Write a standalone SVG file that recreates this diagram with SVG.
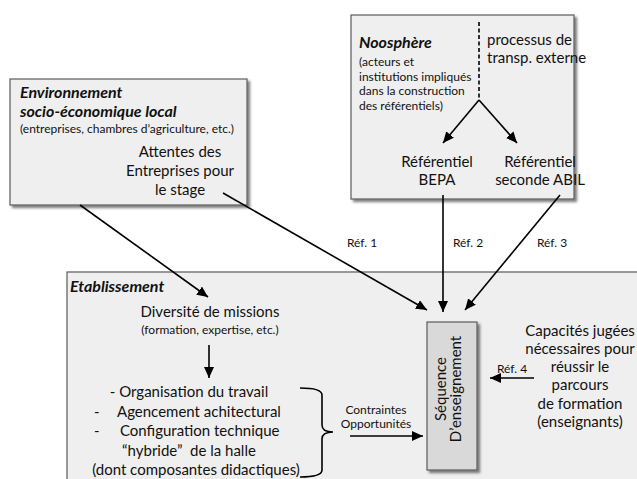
<svg xmlns="http://www.w3.org/2000/svg" width="637" height="479" viewBox="0 0 637 479">
<defs>
<style>
.box{fill:#efefef;stroke:#5a5a5a;stroke-width:1.2}
.seq{fill:#d9d9d9;stroke:#5a5a5a;stroke-width:1.2}
.t{font-family:Lato,"Liberation Sans",sans-serif;fill:#111}
.m{font-size:15px}
.s{font-size:12px}
.h{font-size:16px;font-weight:bold;font-style:italic}
.c{text-anchor:middle}
.ln{stroke:#000;stroke-width:1.6;fill:none}
.ar{stroke:#000;stroke-width:1.6;fill:none;marker-end:url(#ah)}
</style>
<marker id="ah" markerUnits="userSpaceOnUse" markerWidth="12" markerHeight="10" refX="11" refY="5" orient="auto">
<path d="M0,0 L11,5 L0,10 z" fill="#000"/>
</marker>
<filter id="sh" x="-10%" y="-10%" width="130%" height="130%">
<feDropShadow dx="2.5" dy="2.5" stdDeviation="1.2" flood-color="#000" flood-opacity="0.5"/>
</filter>
</defs>
<rect width="637" height="479" fill="#fff"/>

<g id="etablissement">
<rect class="box" x="67" y="272" width="580" height="220" filter="url(#sh)"/>
<text class="t h" x="70" y="292">Etablissement</text>
</g>

<g id="environnement">
<rect class="box" x="10" y="79" width="237" height="126" filter="url(#sh)"/>
<text class="t h" x="20" y="98">Environnement</text>
<text class="t h" x="20" y="117">socio-économique local</text>
<text class="t s" x="20" y="133">(entreprises, chambres d’agriculture, etc.)</text>
<text class="t m c" x="180" y="157">Attentes des</text>
<text class="t m c" x="180" y="176">Entreprises pour</text>
<text class="t m c" x="180" y="195">le stage</text>
</g>

<g id="noosphere">
<rect class="box" x="351" y="15" width="223" height="184" filter="url(#sh)"/>
<text class="t h" x="359" y="48">Noosphère</text>
<text class="t s" x="359" y="66">(acteurs et</text>
<text class="t s" x="359" y="80.5">institutions impliqués</text>
<text class="t s" x="359" y="95">dans la construction</text>
<text class="t s" x="359" y="109.5">des référentiels)</text>
<text class="t m" x="487" y="45">processus de</text>
<text class="t m" x="487" y="63">transp. externe</text>
<line x1="479" y1="22" x2="479" y2="100" stroke="#000" stroke-width="1.6" stroke-dasharray="4,2.5"/>
</g>

<g id="ref-bepa">
<text class="t m c" x="437" y="167">Référentiel</text>
<text class="t m c" x="437" y="185">BEPA</text>
</g>

<g id="ref-abil">
<text class="t m c" x="540" y="167">Référentiel</text>
<text class="t m c" x="540" y="185">seconde ABIL</text>
</g>

<g id="diversite">
<text class="t m c" x="210" y="317">Diversité de missions</text>
<text class="t s c" x="210" y="334">(formation, expertise, etc.)</text>
</g>

<g id="organisation">
<text class="t m c" x="189" y="397">- Organisation du travail</text>
<text class="t m" x="94" y="416.5">-</text>
<text class="t m" x="117" y="416.5">Agencement achitectural</text>
<text class="t m" x="94" y="436">-</text>
<text class="t m" x="120" y="436">Configuration technique</text>
<text class="t m c" x="189" y="455.5" xml:space="preserve">“hybride”  de la halle</text>
<text class="t m c" x="196" y="475">(dont composantes didactiques)</text>
<path class="ln" d="M300,388 Q322,388 322,395 L322,425 Q322,432 333,432 Q322,432 322,439 L322,470 Q322,477 300,477"/>
</g>

<g id="sequence">
<rect class="seq" x="427" y="322" width="50" height="148" filter="url(#sh)"/>
<text class="t m c" transform="translate(446,389) rotate(-90)">Séquence</text>
<text class="t m c" transform="translate(461,389) rotate(-90)">D’enseignement</text>
</g>

<g id="capacites">
<text class="t m c" x="580" y="336">Capacités jugées</text>
<text class="t m c" x="580" y="354">nécessaires pour</text>
<text class="t m c" x="580" y="372">réussir le</text>
<text class="t m c" x="580" y="390">parcours</text>
<text class="t m c" x="580" y="408.5">de formation</text>
<text class="t m c" x="580" y="427">(enseignants)</text>
</g>

<g id="connectors">
<line class="ar" x1="479" y1="100" x2="443" y2="143"/>
<line class="ar" x1="479" y1="100" x2="517" y2="143"/>
<line class="ar" x1="80" y1="205" x2="208" y2="297"/>
<line class="ar" x1="223" y1="193" x2="427" y2="310"/>
<line class="ar" x1="443" y1="195" x2="443" y2="312"/>
<line class="ar" x1="560" y1="195" x2="465" y2="310"/>
<line class="ar" x1="209" y1="345" x2="209" y2="378"/>
<line class="ar" x1="350" y1="436" x2="423" y2="436"/>
<line class="ar" x1="534" y1="378" x2="490" y2="378"/>
<text class="t s c" x="362" y="247">Réf. 1</text>
<text class="t s c" x="468" y="247">Réf. 2</text>
<text class="t s c" x="552" y="247">Réf. 3</text>
<text class="t s c" x="512" y="373">Réf. 4</text>
<text class="t s c" x="376" y="414">Contraintes</text>
<text class="t s c" x="376" y="428">Opportunités</text>
</g>
</svg>
